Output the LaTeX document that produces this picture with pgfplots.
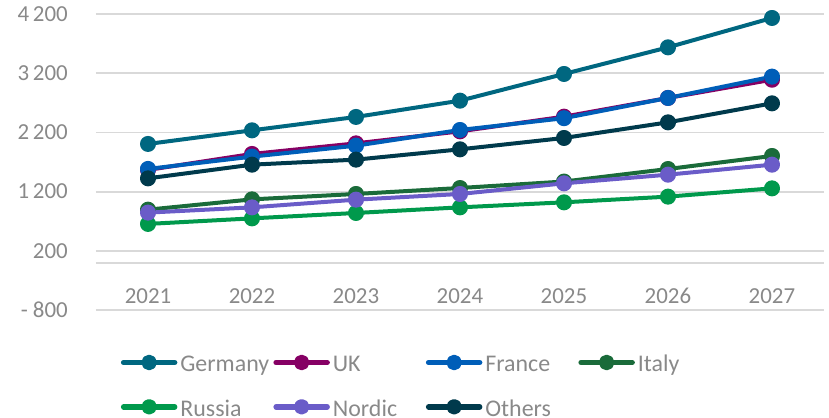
\documentclass[border=0pt]{standalone}
\usepackage{pgfplots}
\pgfplotsset{compat=1.18}
\usepackage{fontspec}
\setmainfont{Carlito}
\definecolor{cGer}{RGB}{0,103,128}
\definecolor{cUK}{RGB}{134,0,100}
\definecolor{cFra}{RGB}{0,94,184}
\definecolor{cIta}{RGB}{26,107,58}
\definecolor{cRus}{RGB}{0,153,76}
\definecolor{cNor}{RGB}{106,92,200}
\definecolor{cOth}{RGB}{0,58,76}
\definecolor{txtgrey}{RGB}{137,137,137}
\definecolor{gridgrey}{RGB}{217,217,217}
\newcommand{\lab}[1]{\makebox[96bp][l]{\hspace{3bp}\rule[-8.7bp]{0pt}{29bp}#1}}
\begin{document}
\begin{tikzpicture}
\path[use as bounding box] (-96bp,-108bp) rectangle (733bp,310bp);
\begin{axis}[
  at={(0,0)}, anchor=south west,
  scale only axis, width=728bp, height=296bp,
  xmin=2020.5, xmax=2027.5, ymin=-800, ymax=4200,
  axis line style={draw=none},
  major tick length=0pt,
  xtick={2021,...,2027},
  xticklabels={2021,2022,2023,2024,2025,2026,2027},
  ytick={-800,200,1200,2200,3200,4200},
  yticklabels={- 800,200,1\,200,2\,200,3\,200,4\,200},
  extra y ticks={0}, extra y tick labels={},
  extra y tick style={grid=major},
  ymajorgrids,
  grid style={gridgrey, line width=1.8bp},
  font=\fontsize{24}{29}\selectfont,
  tick label style={txtgrey, font=\fontsize{23}{27}\selectfont},
  yticklabel style={anchor=east, inner sep=0pt, xshift=-28bp},
  xticklabel style={anchor=center, inner sep=0pt, yshift=14bp},
  clip=false,
  every axis plot/.append style={line width=4bp, mark=*, mark size=6bp, line join=round},
  legend columns=4,
  legend cell align=left,
  legend style={draw=none, fill=none, inner sep=0pt, text=txtgrey,
    at={(24.7bp,-41.4bp)}, anchor=north west,
    nodes={inner sep=0pt},
    font=\fontsize{24}{29}\selectfont,
    row sep=22.5bp},
  legend image code/.code={\draw[line width=5.5bp, line cap=round, mark repeat=2,mark phase=2, mark size=5bp] plot coordinates {(2.5bp,0bp) (28bp,0bp) (53.5bp,0bp)};},
]
\addplot[cGer, mark options={fill=cGer}] coordinates {(2021,2005) (2022,2235) (2023,2461) (2024,2736) (2025,3187) (2026,3637) (2027,4133)};
\addplot[cUK, mark options={fill=cUK}] coordinates {(2021,1566) (2022,1836) (2023,2015) (2024,2218) (2025,2466) (2026,2782) (2027,3090)};
\addplot[cFra, mark options={fill=cFra}] coordinates {(2021,1583) (2022,1791) (2023,1976) (2024,2241) (2025,2440) (2026,2782) (2027,3142)};
\addplot[cIta, mark options={fill=cIta}] coordinates {(2021,895) (2022,1069) (2023,1160) (2024,1261) (2025,1370) (2026,1582) (2027,1802)};
\addplot[cRus, mark options={fill=cRus}] coordinates {(2021,654) (2022,748) (2023,839) (2024,934) (2025,1019) (2026,1115) (2027,1255)};
\addplot[cNor, mark options={fill=cNor}] coordinates {(2021,845) (2022,934) (2023,1064) (2024,1160) (2025,1340) (2026,1486) (2027,1655)};
\addplot[cOth, mark options={fill=cOth}] coordinates {(2021,1424) (2022,1655) (2023,1740) (2024,1914) (2025,2106) (2026,2370) (2027,2691)};
\legend{\lab{Germany},\lab{UK},\lab{France},\lab{Italy},\lab{Russia},\lab{Nordic},\lab{Others}}
\end{axis}
\end{tikzpicture}
\end{document}
